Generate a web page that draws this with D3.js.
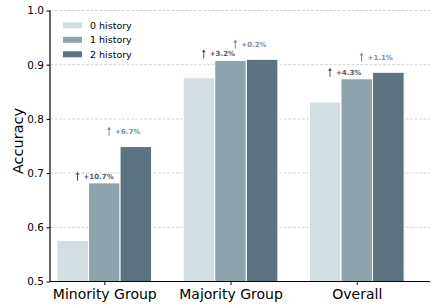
<!DOCTYPE html>
<html lang="en">
<head>
<meta charset="UTF-8"/>
<title>Accuracy by history</title>
<script src="https://d3js.org/d3.v7.min.js"></script>
<style>
    body { margin: 0; background: #fff; }
    svg text { font-family: "DejaVu Sans", sans-serif; }
</style>
</head>
<body>
<div id="chart"></div>
<script>
    // Data
    var groups = ["Minority Group", "Majority Group", "Overall"];
    var seriesNames = ["0 history", "1 history", "2 history"];
    var history0 = [0.576, 0.876, 0.831];
    var history1 = [0.682, 0.908, 0.874];
    var history2 = [0.749, 0.910, 0.886];
    var gain1 = ["+10.7%", "+3.2%", "+4.3%"];   // 1 history vs 0 history
    var gain2 = ["+6.7%", "+0.2%", "+1.1%"];    // 2 history vs 1 history
    var yTicks = [0.5, 0.6, 0.7, 0.8, 0.9, 1.0];

    var series = [history0, history1, history2];
    var colors = ["#d3dee3", "#8fa3ad", "#5d7380"];

    var width = 436, height = 308;
    var plotLeft = 50, plotRight = 430, plotTop = 10.5, plotBottom = 281.5;

    var svg = d3.select("#chart")
        .append("svg")
        .attr("width", width)
        .attr("height", height);

    // group index -> pixel (bar width 0.25 in these units)
    var xScale = d3.scaleLinear()
        .domain([-0.43, 2.58])
        .range([plotLeft, plotRight]);

    var yScale = d3.scaleLinear()
        .domain([0.5, 1.0])
        .range([plotBottom, plotTop]);

    var barW = xScale(0.25) - xScale(0);

    // Grid lines
    svg.selectAll("line.grid")
        .data(yTicks)
        .enter()
        .append("line")
        .attr("class", "grid")
        .attr("x1", plotLeft)
        .attr("x2", plotRight)
        .attr("y1", function(d) { return yScale(d); })
        .attr("y2", function(d) { return yScale(d); })
        .attr("stroke", "#c8c8c8")
        .attr("stroke-width", 0.8)
        .attr("stroke-dasharray", "3,1.5");

    // Bars
    series.forEach(function(vals, s) {
        svg.selectAll("rect.s" + s)
            .data(vals)
            .enter()
            .append("rect")
            .attr("class", "s" + s)
            .attr("x", function(d, i) { return xScale(i + (s - 1) * 0.25) - barW / 2; })
            .attr("y", function(d) { return yScale(d); })
            .attr("width", barW)
            .attr("height", function(d) { return yScale(0.5) - yScale(d); })
            .attr("fill", colors[s])
            .attr("stroke", "#fff")
            .attr("stroke-width", 1);
    });

    // Y axis
    var yAxis = d3.axisLeft(yScale)
        .tickValues(yTicks)
        .tickFormat(d3.format(".1f"))
        .tickSize(3.5)
        .tickPadding(2.5);
    var gy = svg.append("g")
        .attr("transform", "translate(" + plotLeft + ",0)")
        .call(yAxis);
    gy.select(".domain").attr("stroke", "#000").attr("stroke-width", 1.2)
        .attr("d", "M0," + plotTop + "V" + plotBottom);
    gy.selectAll(".tick line").attr("stroke", "#000").attr("stroke-width", 1);
    gy.selectAll(".tick text").attr("font-size", "10.5px").attr("fill", "#000");

    // X axis
    var xAxis = d3.axisBottom(xScale)
        .tickValues([0, 1, 2])
        .tickFormat(function(d) { return groups[d]; })
        .tickSize(3.5)
        .tickPadding(4);
    var gx = svg.append("g")
        .attr("transform", "translate(0," + plotBottom + ")")
        .call(xAxis);
    gx.select(".domain").attr("stroke", "#000").attr("stroke-width", 1.2)
        .attr("d", "M" + plotLeft + ",0H" + plotRight);
    gx.selectAll(".tick line").attr("stroke", "#000").attr("stroke-width", 1);
    gx.selectAll(".tick text").attr("font-size", "14px").attr("fill", "#000");

    // Y axis label
    svg.append("text")
        .attr("text-anchor", "middle")
        .attr("transform", "translate(" + 22.5 + "," + 141 + ")rotate(-90)")
        .attr("font-size", "14.5px")
        .attr("fill", "#000")
        .text("Accuracy");

    // Gain annotations: arrow + label
    function annotate(labels, to, pos, lift, color) {
        var g = svg.selectAll("g.ann" + pos)
            .data(labels)
            .enter()
            .append("g")
            .attr("class", "ann" + pos)
            .attr("transform", function(d, i) {
                var bx = xScale(i + (pos - 1.5) * 0.25) - 11;
                var by = yScale(to[i] + lift);
                return "translate(" + bx + "," + by + ")";
            });
        g.append("line")
            .attr("x1", 0).attr("x2", 0)
            .attr("y1", 4.5).attr("y2", -2.5)
            .attr("stroke", color)
            .attr("stroke-width", 1);
        g.append("path")
            .attr("d", "M-2,-1.5L0,-4.5L2,-1.5Z")
            .attr("fill", color);
        g.append("text")
            .attr("x", 6)
            .attr("y", 0)
            .attr("dy", "0.35em")
            .attr("font-size", "7px")
            .attr("font-weight", "bold")
            .attr("fill", color)
            .text(function(d) { return d; });
    }
    annotate(gain1, history1, 1, 0.012, "#4a5e6b");
    annotate(gain2, history2, 2, 0.028, "#7d909b");

    // Legend
    var legend = svg.selectAll("g.legend")
        .data(seriesNames)
        .enter()
        .append("g")
        .attr("class", "legend")
        .attr("transform", function(d, i) { return "translate(63," + (25.3 + i * 14.5) + ")"; });
    legend.append("rect")
        .attr("x", 0)
        .attr("y", -3)
        .attr("width", 19)
        .attr("height", 6)
        .attr("fill", function(d, i) { return colors[i]; });
    legend.append("text")
        .attr("x", 27)
        .attr("y", 0)
        .attr("dy", "0.35em")
        .attr("font-size", "9.5px")
        .attr("fill", "#000")
        .text(function(d) { return d; });
</script>
</body>
</html>
